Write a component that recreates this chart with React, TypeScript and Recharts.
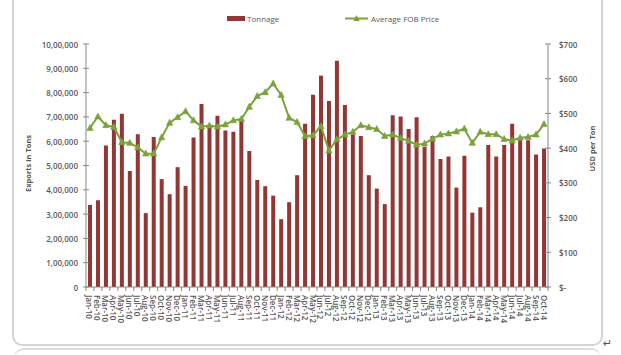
import React from 'react';
import { ComposedChart, Bar, Line, XAxis, YAxis } from 'recharts';

const months = [
  'Jan-10','Feb-10','Mar-10','Apr-10','May-10','Jun-10','Jul-10','Aug-10','Sep-10','Oct-10','Nov-10','Dec-10',
  'Jan-11','Feb-11','Mar-11','Apr-11','May-11','Jun-11','Jul-11','Aug-11','Sep-11','Oct-11','Nov-11','Dec-11',
  'Jan-12','Feb-12','Mar-12','Apr-12','May-12','Jun-12','Jul-12','Aug-12','Sep-12','Oct-12','Nov-12','Dec-12',
  'Jan-13','Feb-13','Mar-13','Apr-13','May-13','Jun-13','Jul-13','Aug-13','Sep-13','Oct-13','Nov-13','Dec-13',
  'Jan-14','Feb-14','Mar-14','Apr-14','May-14','Jun-14','Jul-14','Aug-14','Sep-14','Oct-14',
];

// Tonnage in thousands of tons
const tonnageK = [
  338, 357, 582, 688, 713, 477, 629, 304, 617, 444, 382, 493,
  416, 615, 753, 654, 705, 644, 639, 684, 560, 440, 415, 376,
  279, 349, 460, 672, 791, 870, 765, 931, 749, 629, 621, 460,
  405, 341, 707, 702, 650, 699, 577, 621, 527, 537, 409, 540,
  306, 328, 584, 537, 584, 672, 604, 604, 545, 570,
];

// Average FOB price, USD per ton
const price = [
  458, 491, 466, 461, 417, 415, 402, 384, 384, 431, 473, 489,
  506, 480, 462, 465, 462, 468, 480, 484, 519, 550, 561, 586,
  553, 487, 475, 434, 437, 463, 393, 425, 439, 447, 466, 460,
  455, 435, 439, 429, 421, 410, 413, 427, 439, 442, 448, 456,
  415, 447, 440, 440, 426, 422, 430, 432, 439, 469,
];

const leftTicks = [0, 100000, 200000, 300000, 400000, 500000, 600000, 700000, 800000, 900000, 1000000];
const rightTicks = [0, 100, 200, 300, 400, 500, 600, 700];

const data = months.map((m, i) => ({ month: m, tonnage: tonnageK[i] * 1000, price: price[i] }));

const BAR = '#943634';
const GREEN = '#7BA23D';
const AXIS = '#868686';
const TXT = '#595959';
const FONT = '"Open Sans", Calibri, sans-serif';

const W = 621;
const H = 355;
const M = { top: 44, right: 0, bottom: 0, left: 0 };
const LEFT_W = 86;
const RIGHT_W = 73;
const X_H = 68;
const HALF_BAND = (W - LEFT_W - RIGHT_W) / months.length / 2;

function indian(n: number): string {
  if (n === 0) return '0';
  const s = String(n);
  const last3 = s.slice(-3);
  let rest = s.slice(0, -3);
  const parts: string[] = [];
  while (rest.length > 2) {
    parts.unshift(rest.slice(-2));
    rest = rest.slice(0, -2);
  }
  if (rest.length) parts.unshift(rest);
  return parts.join(',') + ',' + last3;
}

const LeftTick = (props: any) => {
  const { x, y, payload } = props;
  return (
    <g>
      <line x1={x - 3} x2={x + 3} y1={y} y2={y} stroke={AXIS} strokeWidth={1} />
      <text x={x - 8} y={y} textAnchor="end" dominantBaseline="central" fontSize={8} fontWeight={600} fill={TXT} fontFamily={FONT}>
        {indian(payload.value)}
      </text>
    </g>
  );
};

const RightTick = (props: any) => {
  const { x, y, payload } = props;
  return (
    <g>
      <line x1={x - 3} x2={x + 3} y1={y} y2={y} stroke={AXIS} strokeWidth={1} />
      <text x={x + 11} y={y} textAnchor="start" dominantBaseline="central" fontSize={8} fontWeight={600} fill={TXT} fontFamily={FONT}>
        {payload.value === 0 ? '$-' : `$${payload.value}`}
      </text>
    </g>
  );
};

const XTick = (props: any) => {
  const { x, y, payload, index } = props;
  return (
    <g>
      {index === 0 && <line x1={x - HALF_BAND} x2={x - HALF_BAND} y1={y} y2={y + 4} stroke={AXIS} />}
      <line x1={x + HALF_BAND} x2={x + HALF_BAND} y1={y} y2={y + 4} stroke={AXIS} />
      <text
        transform={`translate(${x},${y + 8}) rotate(90)`}
        textAnchor="start"
        dominantBaseline="central"
        fontSize={8}
        fontWeight={600}
        fill={TXT}
        fontFamily={FONT}
      >
        {payload.value}
      </text>
    </g>
  );
};

const Triangle = (props: any) => {
  const { cx, cy, index } = props;
  if (cx == null || cy == null) return <g key={`t${index}`} />;
  return <path key={`t${index}`} d={`M${cx},${cy - 3.6} L${cx + 3.2},${cy + 2.4} L${cx - 3.2},${cy + 2.4} Z`} fill={GREEN} stroke={GREEN} strokeWidth={0.6} />;
};

const LeftTitle = (props: any) => {
  const { viewBox } = props;
  const cy = viewBox.y + viewBox.height / 2;
  return (
    <text transform={`translate(28,${cy - 2}) rotate(-90)`} textAnchor="middle" dominantBaseline="central" fontSize={7.5} fontWeight={700} fill={TXT} fontFamily={FONT}>
      Exports in Tons
    </text>
  );
};

const RightTitle = (props: any) => {
  const { viewBox } = props;
  const cy = viewBox.y + viewBox.height / 2;
  return (
    <text transform={`translate(592,${cy - 17}) rotate(-90)`} textAnchor="middle" dominantBaseline="central" fontSize={7.5} fontWeight={700} fill={TXT} fontFamily={FONT}>
      USD per Ton
    </text>
  );
};

export default function App() {
  return (
    <div style={{ position: 'absolute', left: 0, top: 0, width: W, height: H, background: '#fff', overflow: 'hidden' }}>
      <div
        style={{
          position: 'absolute',
          left: 12,
          top: -12,
          width: 591,
          height: 358,
          boxSizing: 'border-box',
          border: '2px solid #d4d4d4',
          borderRadius: 10,
        }}
      />
      <div
        style={{
          position: 'absolute',
          left: 14,
          top: 348,
          width: 587,
          height: 20,
          boxSizing: 'border-box',
          borderTop: '2px solid #dcdcdc',
          borderLeft: '1px solid #e4e4e4',
          borderRadius: 10,
        }}
      />
      <div style={{ position: 'absolute', left: 0, top: 0 }}>
        <ComposedChart width={W} height={H} data={data} margin={M}>
          <XAxis
            dataKey="month"
            interval={0}
            height={X_H}
            tickLine={false}
            tickSize={0}
            tickMargin={0}
            axisLine={{ stroke: AXIS }}
            tick={<XTick />}
          />
          <YAxis
            yAxisId="left"
            orientation="left"
            width={LEFT_W}
            domain={[0, 1000000]}
            ticks={leftTicks}
            interval={0}
            tickLine={false}
            tickSize={0}
            tickMargin={0}
            axisLine={{ stroke: AXIS }}
            tick={<LeftTick />}
            label={{ content: <LeftTitle /> }}
          />
          <YAxis
            yAxisId="right"
            orientation="right"
            width={RIGHT_W}
            domain={[0, 700]}
            ticks={rightTicks}
            interval={0}
            tickLine={false}
            tickSize={0}
            tickMargin={0}
            axisLine={{ stroke: AXIS }}
            tick={<RightTick />}
            label={{ content: <RightTitle /> }}
          />
          <Bar yAxisId="left" dataKey="tonnage" fill={BAR} barSize={4} isAnimationActive={false} />
          <Line
            yAxisId="right"
            dataKey="price"
            stroke={GREEN}
            strokeWidth={2}
            dot={<Triangle />}
            activeDot={false}
            isAnimationActive={false}
          />
        </ComposedChart>
      </div>
      <svg style={{ position: 'absolute', left: 0, top: 0 }} width={W} height={40}>
        <rect x={227} y={16} width={18} height={5} fill={BAR} />
        <text x={247} y={18.5} dominantBaseline="central" fontSize={8} fill={TXT} fontFamily={FONT}>Tonnage</text>
        <line x1={345} x2={368} y1={18.5} y2={18.5} stroke={GREEN} strokeWidth={2} />
        <path d="M356.5,14.9 L359.7,20.9 L353.3,20.9 Z" fill={GREEN} />
        <text x={371} y={18.5} dominantBaseline="central" fontSize={8} fill={TXT} fontFamily={FONT}>Average FOB Price</text>
      </svg>
      <div style={{ position: 'absolute', left: 603, top: 337, fontSize: 11, color: '#555', fontFamily: 'DejaVu Sans' }}>↵</div>
    </div>
  );
}
